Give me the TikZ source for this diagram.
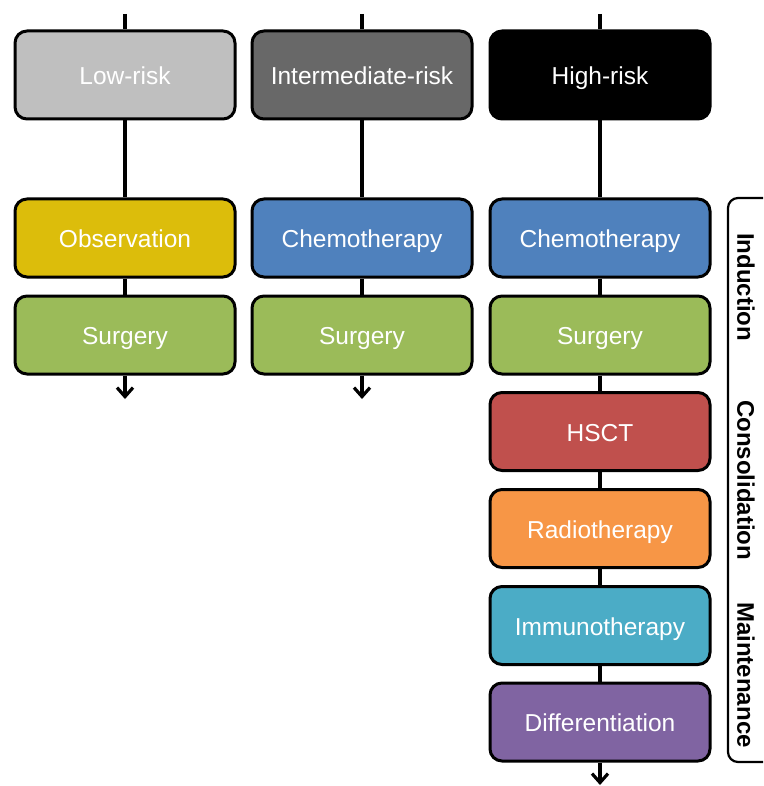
\documentclass[tikz,border=0pt]{standalone}
\usepackage{fontspec}
\setmainfont{Liberation Sans}
\usetikzlibrary{arrows.meta}
\definecolor{lowgray}{HTML}{BFBFBF}
\definecolor{midgray}{HTML}{686868}
\definecolor{obsyellow}{HTML}{DCBD0B}
\definecolor{chemoblue}{HTML}{4F81BD}
\definecolor{surggreen}{HTML}{9BBB59}
\definecolor{hsctred}{HTML}{C0504D}
\definecolor{radioorange}{HTML}{F79646}
\definecolor{immunocyan}{HTML}{4BACC6}
\definecolor{diffpurple}{HTML}{8064A2}
\begin{document}
\begin{tikzpicture}[x=1pt,y=-1pt,>={Straight Barb[length=9pt,width=16pt]},
  box/.style={draw,line width=3pt,rounded corners=12pt,text=white,
    minimum width=220pt,minimum height=78pt,text height=19pt,text depth=0pt,
    font=\fontsize{24.5}{28}\selectfont},
  riskbox/.style={box,minimum height=88pt},
  flow/.style={line width=3.2pt},
  phase/.style={rotate=-90,font=\bfseries\fontsize{24}{28}\selectfont}]
\clip (0,0) rectangle (763,786);
% risk groups
\node[riskbox,fill=lowgray] (low) at (125,75) {Low-risk};
\node[riskbox,fill=midgray] (mid) at (362,75) {Intermediate-risk};
\node[riskbox,fill=black] (high) at (600,75) {High-risk};
\coordinate (lowin) at (125,14);
\coordinate (midin) at (362,14);
\coordinate (highin) at (600,14);
% low-risk
\node[box,fill=obsyellow] (obs) at (125,238) {Observation};
\node[box,fill=surggreen] (lowsurg) at (125,335) {Surgery};
\coordinate (lowout) at (125,399);
% intermediate-risk
\node[box,fill=chemoblue] (midchemo) at (362,238) {Chemotherapy};
\node[box,fill=surggreen] (midsurg) at (362,335) {Surgery};
\coordinate (midout) at (362,399);
% high-risk
\node[box,fill=chemoblue] (highchemo) at (600,238) {Chemotherapy};
\node[box,fill=surggreen] (highsurg) at (600,335) {Surgery};
\node[box,fill=hsctred] (hsct) at (600,431.5) {HSCT};
\node[box,fill=radioorange] (radio) at (600,528.5) {Radiotherapy};
\node[box,fill=immunocyan] (immuno) at (600,625.5) {Immunotherapy};
\node[box,fill=diffpurple] (diff) at (600,722) {Differentiation};
\coordinate (highout) at (600,785);
% connectors
\draw[flow] (lowin)--(low);
\draw[flow] (low)--(obs);
\draw[flow] (obs)--(lowsurg);
\draw[flow,->] (lowsurg)--(lowout);
\draw[flow] (midin)--(mid);
\draw[flow] (mid)--(midchemo);
\draw[flow] (midchemo)--(midsurg);
\draw[flow,->] (midsurg)--(midout);
\draw[flow] (highin)--(high);
\draw[flow] (high)--(highchemo);
\draw[flow] (highchemo)--(highsurg);
\draw[flow] (highsurg)--(hsct);
\draw[flow] (hsct)--(radio);
\draw[flow] (radio)--(immuno);
\draw[flow] (immuno)--(diff);
\draw[flow,->] (diff)--(highout);
% phases
\draw[line width=2.2pt,rounded corners=10pt] (775,198)--(728,198)--(728,762)--(775,762);
\node[phase] (induction) at (746,287) {Induction};
\node[phase] (consolidation) at (746,480) {Consolidation};
\node[phase] (maintenance) at (746,675) {Maintenance};
\end{tikzpicture}
\end{document}
